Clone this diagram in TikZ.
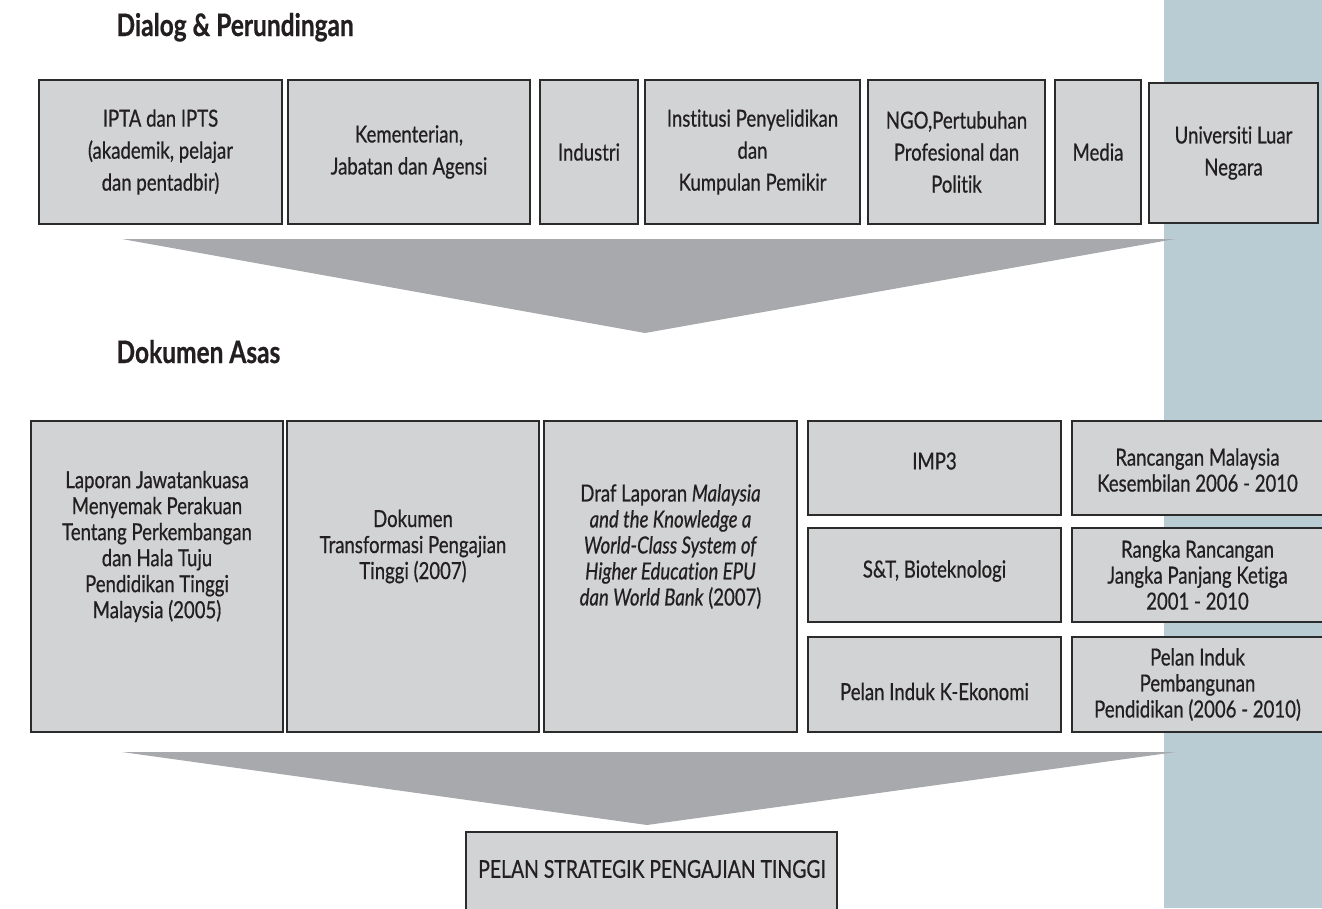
\documentclass[tikz,border=0pt]{standalone}
\usepackage{fontspec}
\setmainfont{Lato}[FakeStretch=0.79, FakeBold=0.6, Ligatures={NoCommon}]
\definecolor{boxgray}{HTML}{D1D3D4}
\definecolor{edgegray}{HTML}{2B2B2B}
\definecolor{arrowgray}{HTML}{A7A9AC}
\definecolor{stripblue}{HTML}{B9CBD3}
\definecolor{ink}{HTML}{231F20}
\tikzset{
  cell/.style={rectangle, fill=boxgray, draw=edgegray, line width=1.6pt, inner sep=0pt},
  toptxt/.style={align=center, font=\fontsize{23.5}{32}\selectfont, text=ink},
  bottxt/.style={align=center, font=\fontsize{23.5}{26}\selectfont, text=ink},
  heading/.style={anchor=base west, font=\fontsize{31}{36}\selectfont\bfseries, text=ink},
  chevron/.style={fill=arrowgray}
}
\begin{document}
\begin{tikzpicture}[x=1pt, y=-1pt]
\useasboundingbox (0,0) rectangle (1322,908);
\clip (0,0) rectangle (1322,908);
% right strip
\fill[stripblue] (1164,0) rectangle (1322,908);

% headings
\node[heading] (h1) at (113,36) {Dialog \& Perundingan};
\node[heading] (h2) at (113,363) {Dokumen Asas};

% top row
\node[cell, minimum width=243, minimum height=144] (t1) at (160.5,152) {};
\node[cell, minimum width=242, minimum height=144] (t2) at (409,152) {};
\node[cell, minimum width=98,  minimum height=144] (t3) at (589,152) {};
\node[cell, minimum width=215, minimum height=144] (t4) at (752.5,152) {};
\node[cell, minimum width=177, minimum height=144] (t5) at (956.5,152) {};
\node[cell, minimum width=86,  minimum height=144] (t6) at (1098,152) {};
\node[cell, minimum width=169, minimum height=140] (t7) at (1233.5,153) {};

\node[toptxt] (t1x) at (t1.center) {IPTA dan IPTS\\(akademik, pelajar\\dan pentadbir)};
\node[toptxt] (t2x) at (t2.center) {Kementerian,\\Jabatan dan Agensi};
\node[toptxt] (t3x) at (t3.center) {Industri};
\node[toptxt] (t4x) at (t4.center) {Institusi Penyelidikan\\dan\\Kumpulan Pemikir};
\node[toptxt] (t5x) at (t5.center) {NGO,Pertubuhan\\Profesional dan\\Politik};
\node[toptxt] (t6x) at (t6.center) {Media};
\node[toptxt] (t7x) at (t7.center) {Universiti Luar\\Negara};

% first chevron
\coordinate (a1l) at (122,239);
\coordinate (a1r) at (1175,239);
\coordinate (a1t) at (645,333);
\fill[chevron] (a1l) -- (a1r) -- (a1t) -- cycle;

% bottom blocks
\node[cell, minimum width=252, minimum height=311] (b1) at (157,576.5) {};
\node[cell, minimum width=252, minimum height=311] (b2) at (413,576.5) {};
\node[cell, minimum width=253, minimum height=311] (b3) at (670.5,576.5) {};
\node[cell, minimum width=253, minimum height=94] (c1) at (934.5,468) {};
\node[cell, minimum width=253, minimum height=94] (c2) at (934.5,575) {};
\node[cell, minimum width=253, minimum height=95] (c3) at (934.5,684.5) {};
\node[cell, minimum width=251, minimum height=94] (d1) at (1197.5,468) {};
\node[cell, minimum width=251, minimum height=94] (d2) at (1197.5,575) {};
\node[cell, minimum width=251, minimum height=95] (d3) at (1197.5,684.5) {};

\node[bottxt] (b1x) at ([yshift=30]b1.center) {Laporan Jawatankuasa\\Menyemak Perakuan\\Tentang Perkembangan\\dan Hala Tuju\\Pendidikan Tinggi\\Malaysia (2005)};
\node[bottxt] (b2x) at ([yshift=30]b2.center) {Dokumen\\Transformasi Pengajian\\Tinggi (2007)};
\node[bottxt] (b3x) at ([yshift=30]b3.center) {Draf Laporan \emph{Malaysia}\\\emph{and the Knowledge a}\\\emph{World-Class System of}\\\emph{Higher Education EPU}\\\emph{dan World Bank} (2007)};
\node[bottxt] (c1x) at ([yshift=7]c1.center) {IMP3};
\node[bottxt] (c2x) at ([yshift=4]c2.center) {S\&T, Bioteknologi};
\node[bottxt] (c3x) at ([yshift=-7]c3.center) {Pelan Induk K-Ekonomi};
\node[bottxt] (d1x) at ([yshift=-2]d1.center) {Rancangan Malaysia\\Kesembilan 2006 - 2010};
\node[bottxt] (d2x) at (d2.center) {Rangka Rancangan\\Jangka Panjang Ketiga\\2001 - 2010};
\node[bottxt] (d3x) at (d3.center) {Pelan Induk\\Pembangunan\\Pendidikan (2006 - 2010)};

% second chevron
\coordinate (a2l) at (122,752);
\coordinate (a2r) at (1176,752);
\coordinate (a2t) at (647,825);
\fill[chevron] (a2l) -- (a2r) -- (a2t) -- cycle;

% final box
\node[cell, minimum width=371, minimum height=90] (p) at (651.5,877) {};
\node[bottxt, font=\fontsize{24.5}{26}\selectfont] (px) at (652,869) {PELAN STRATEGIK PENGAJIAN TINGGI};
\end{tikzpicture}
\end{document}
